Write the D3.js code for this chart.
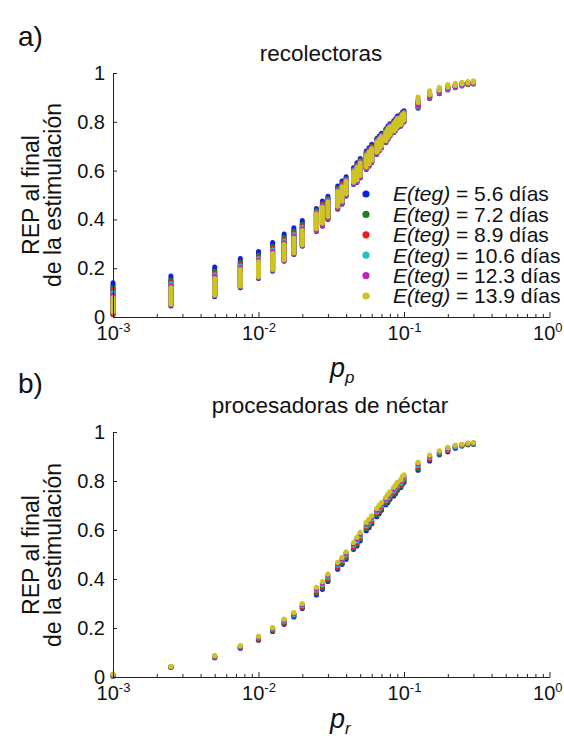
<!DOCTYPE html>
<html>
<head>
<meta charset="utf-8">
<script src="https://cdn.jsdelivr.net/npm/d3@7"></script>
<style>
  html, body { margin: 0; padding: 0; background: #fff; }
  svg { display: block; font-family: "Liberation Sans", Arial, sans-serif; }
</style>
</head>
<body>
<svg id="fig" width="564" height="738"></svg>
<script>
// ---- sampled probabilities (shared by both panels) ----
const pValues = [0.001, 0.0025, 0.005, 0.0075, 0.01, 0.0125, 0.015, 0.0175, 0.02,
  0.025, 0.0275, 0.03, 0.035, 0.0375, 0.04, 0.045, 0.0475, 0.05, 0.055, 0.0575, 0.06,
  0.065, 0.0675, 0.07, 0.075, 0.0775, 0.08, 0.085, 0.0875, 0.09, 0.095, 0.0975, 0.1,
  0.125, 0.15, 0.175, 0.2, 0.225, 0.25, 0.275, 0.3];

// ---- legend / series ----
const tegLabels = ["5.6", "7.2", "8.9", "10.6", "12.3", "13.9"];
const seriesColors = ["#1020e0", "#1f7f1f", "#ee1c1c", "#22c0c0", "#bf22bf", "#cbc425"];

// ---- panel a) recolectoras: range of REP per column (low / high) ----
const recBlueLo = [.01,.045,.083,.12,.158,.188,.228,.256,.29,.35,.372,.40,.442,.462,.495,.543,.551,.57,.605,.618,.632,.666,.68,.693,.714,.728,.741,.755,.764,.775,.782,.796,.80,.856,.895,.915,.93,.94,.947,.952,.955];
const recBlueHi = [.14,.168,.205,.24,.268,.305,.34,.366,.395,.445,.475,.495,.537,.557,.575,.612,.632,.65,.68,.694,.708,.732,.742,.753,.77,.783,.792,.804,.813,.824,.83,.84,.845,.879,.911,.929,.942,.949,.955,.959,.962];
const recGreenLo = [.01,.05,.087,.124,.161,.192,.231,.259,.293,.354,.376,.404,.446,.466,.498,.546,.554,.573,.608,.621,.635,.669,.682,.695,.716,.73,.743,.757,.766,.777,.784,.798,.802,.858,.897,.916,.931,.941,.948,.953,.956];
const recGreenHi = [.12,.15,.188,.223,.253,.289,.325,.351,.38,.436,.465,.486,.528,.548,.567,.605,.624,.642,.673,.686,.70,.725,.736,.747,.764,.777,.787,.799,.808,.819,.825,.836,.84,.881,.913,.93,.943,.95,.955,.959,.962];
const recRedLo = [.01,.05,.087,.124,.161,.192,.231,.259,.293,.354,.376,.404,.446,.466,.498,.546,.554,.573,.608,.621,.635,.669,.682,.695,.716,.73,.743,.757,.766,.777,.784,.798,.802,.861,.898,.918,.932,.942,.949,.953,.956];
const recRedHi = [.11,.143,.18,.216,.246,.282,.318,.344,.374,.432,.461,.482,.524,.544,.564,.602,.621,.639,.67,.683,.697,.723,.733,.745,.762,.775,.785,.797,.806,.817,.823,.834,.839,.884,.914,.931,.944,.951,.956,.96,.963];
const recCyanLo = [.02,.05,.088,.125,.162,.193,.232,.26,.294,.355,.377,.405,.447,.467,.499,.547,.555,.574,.609,.622,.636,.669,.683,.696,.717,.731,.744,.757,.766,.777,.784,.798,.802,.863,.90,.919,.933,.943,.949,.954,.957];
const recCyanHi = [.10,.136,.173,.209,.24,.275,.311,.338,.368,.428,.456,.478,.52,.54,.561,.60,.617,.636,.667,.68,.694,.72,.731,.742,.76,.773,.783,.795,.804,.815,.821,.832,.837,.886,.916,.933,.945,.952,.957,.96,.963];
const recMagentaLo = [.02,.05,.088,.125,.162,.193,.232,.26,.294,.355,.377,.405,.447,.467,.499,.547,.555,.574,.609,.622,.636,.669,.683,.696,.717,.731,.744,.757,.766,.777,.784,.798,.802,.865,.901,.92,.935,.944,.95,.955,.958];
const recMagentaHi = [.09,.128,.166,.202,.233,.268,.304,.331,.361,.426,.454,.476,.518,.538,.559,.598,.616,.634,.665,.679,.693,.719,.73,.741,.759,.772,.782,.794,.803,.814,.82,.831,.836,.89,.919,.935,.947,.954,.958,.962,.965];
const recYellowLo = [.02,.052,.09,.127,.165,.195,.235,.263,.296,.362,.384,.412,.454,.474,.505,.552,.561,.58,.615,.628,.642,.675,.688,.701,.722,.736,.748,.762,.771,.782,.789,.802,.807,.879,.911,.929,.942,.949,.955,.959,.962];
const recYellowHi = [.08,.12,.158,.195,.226,.26,.297,.324,.355,.422,.45,.472,.514,.534,.556,.595,.613,.631,.662,.676,.69,.716,.727,.739,.757,.77,.78,.792,.801,.812,.818,.829,.834,.902,.927,.942,.953,.958,.962,.965,.968];

// ---- panel b) procesadoras de néctar: REP per column ----
const procBlue = [.003,.039,.079,.117,.150,.186,.215,.245,.280,.335,.358,.390,.440,.460,.481,.521,.535,.556,.597,.610,.626,.654,.667,.681,.703,.712,.726,.739,.749,.762,.773,.787,.795,.844,.882,.907,.919,.934,.943,.948,.950];
const procGreen = [.005,.040,.081,.119,.153,.189,.219,.249,.284,.341,.364,.396,.446,.466,.487,.527,.542,.563,.604,.617,.632,.661,.674,.687,.709,.719,.732,.746,.756,.768,.779,.793,.801,.850,.887,.910,.923,.936,.944,.949,.951];
const procRed = [.007,.041,.082,.121,.156,.192,.223,.252,.288,.347,.370,.402,.451,.471,.493,.532,.549,.570,.611,.624,.639,.668,.681,.693,.715,.726,.738,.753,.763,.775,.786,.800,.807,.857,.892,.913,.926,.939,.946,.951,.953];
const procCyan = [.008,.041,.084,.124,.160,.196,.228,.256,.292,.354,.377,.408,.457,.477,.499,.538,.556,.576,.617,.630,.645,.674,.687,.700,.721,.732,.744,.760,.769,.781,.792,.806,.813,.863,.896,.917,.930,.941,.947,.952,.954];
const procMagenta = [.010,.042,.085,.126,.163,.199,.232,.259,.296,.360,.383,.414,.462,.482,.505,.543,.563,.583,.624,.637,.652,.681,.694,.706,.727,.739,.750,.767,.776,.788,.799,.813,.819,.870,.901,.920,.933,.944,.949,.954,.956];
const procYellow = [.012,.043,.087,.128,.166,.202,.236,.263,.300,.366,.389,.420,.468,.488,.511,.549,.570,.590,.631,.644,.658,.688,.701,.712,.733,.746,.756,.774,.783,.794,.805,.819,.825,.876,.906,.923,.937,.946,.950,.955,.957];

// ---- axis ticks ----
const xMajorTicks = [1e-3, 1e-2, 1e-1, 1];
const xMajorExp = ["-3", "-2", "-1", "0"];
const yTicks = [0, 0.2, 0.4, 0.6, 0.8, 1];
const yTickLabels = ["0", "0.2", "0.4", "0.6", "0.8", "1"];

const svg = d3.select("#fig");
const W = 564;
const x = d3.scaleLog().domain([1e-3, 1]).range([113, 549.5]);

const xMinorTicks = [];
[1e-3, 1e-2, 1e-1].forEach(d => { for (let m = 2; m <= 9; m++) xMinorTicks.push(d * m); });

function drawAxes(g, y) {
  const base = y(0);
  // minor ticks
  g.append("g").attr("transform", `translate(0,${base})`)
    .call(d3.axisBottom(x).tickValues(xMinorTicks).tickSize(-3).tickSizeOuter(0).tickFormat(""));
  // major ticks + power-of-ten labels
  const gx = g.append("g").attr("transform", `translate(0,${base})`)
    .call(d3.axisBottom(x).tickValues(xMajorTicks).tickSize(-5).tickSizeOuter(0).tickFormat(""));
  gx.selectAll(".tick text").remove();
  gx.selectAll(".tick").each(function (d, i) {
    const t = d3.select(this).append("text")
      .attr("y", 23).attr("text-anchor", "middle")
      .attr("fill", "#111").attr("font-size", 20);
    t.append("tspan").text("10");
    t.append("tspan").attr("dy", -8).attr("font-size", 13).text(xMajorExp[i]);
    // keep the rightmost label inside the figure
    const bb = this.getBBox();
    const right = x(d) + bb.x + bb.width;
    if (right > W - 2) t.attr("dx", (W - 2) - right);
  });

  const gy = g.append("g").attr("transform", `translate(${x(1e-3)},0)`)
    .call(d3.axisLeft(y).tickValues(yTicks).tickSize(-4).tickSizeOuter(0)
      .tickPadding(8).tickFormat((d, i) => yTickLabels[i]));
  gy.selectAll(".tick text").attr("font-size", 20).attr("fill", "#111");

  g.selectAll(".domain").attr("stroke", "#222");
  g.selectAll(".tick line").attr("stroke", "#222");
}

function drawYLabel(g, yMid) {
  const t = g.append("text").attr("transform", `translate(39,${yMid}) rotate(-90)`)
    .attr("text-anchor", "middle").attr("font-size", 23).attr("fill", "#111");
  t.append("tspan").attr("x", 0).attr("y", 0).text("REP al final");
  t.append("tspan").attr("x", 0).attr("y", 22).text("de la estimulación");
}

// ---------- panel a ----------
const yA = d3.scaleLinear().domain([0, 1]).range([317, 73]);
const gA = svg.append("g");

svg.append("text").attr("x", 18).attr("y", 46).attr("font-size", 28).attr("fill", "#111").text("a)");
svg.append("text").attr("x", 321).attr("y", 61).attr("text-anchor", "middle")
  .attr("font-size", 22.5).attr("fill", "#111").text("recolectoras");

const recSeries = [
  [recBlueLo, recBlueHi], [recGreenLo, recGreenHi], [recRedLo, recRedHi],
  [recCyanLo, recCyanHi], [recMagentaLo, recMagentaHi], [recYellowLo, recYellowHi]
];
recSeries.forEach(([lo, hi], s) => {
  gA.append("g").selectAll("line").data(pValues).join("line")
    .attr("x1", d => x(d)).attr("x2", d => x(d))
    .attr("y1", (d, i) => yA(lo[i])).attr("y2", (d, i) => yA(hi[i]))
    .attr("stroke", seriesColors[s]).attr("stroke-width", 5)
    .attr("stroke-linecap", "round");
});
drawAxes(gA, yA);
drawYLabel(svg, 195);

const xlA = svg.append("text").attr("x", 330).attr("y", 377).attr("font-size", 27)
  .attr("font-style", "italic").attr("fill", "#111");
xlA.append("tspan").text("p");
xlA.append("tspan").attr("dy", 6).attr("font-size", 17).text("p");

// legend
const leg = svg.append("g");
tegLabels.forEach((lab, i) => {
  const cy = 194 + i * 20.4;
  leg.append("circle").attr("cx", 366).attr("cy", cy).attr("r", 3.6).attr("fill", seriesColors[i]);
  const t = leg.append("text").attr("x", 393).attr("y", cy + 7.3)
    .attr("font-size", 21).attr("fill", "#111");
  t.append("tspan").attr("font-style", "italic").text("E(teg)");
  t.append("tspan").text(" = " + lab + " días");
});

// ---------- panel b ----------
const yB = d3.scaleLinear().domain([0, 1]).range([677, 432]);
const gB = svg.append("g");

svg.append("text").attr("x", 18).attr("y", 393).attr("font-size", 28).attr("fill", "#111").text("b)");
svg.append("text").attr("x", 330).attr("y", 413).attr("text-anchor", "middle")
  .attr("font-size", 22.5).attr("fill", "#111").text("procesadoras de néctar");

const procSeries = [procBlue, procGreen, procRed, procCyan, procMagenta, procYellow];
procSeries.forEach((vals, s) => {
  gB.append("g").selectAll("circle").data(pValues).join("circle")
    .attr("cx", d => x(d)).attr("cy", (d, i) => yB(vals[i]))
    .attr("r", 2.6).attr("fill", seriesColors[s]);
});
drawAxes(gB, yB);
drawYLabel(svg, 555);

const xlB = svg.append("text").attr("x", 330).attr("y", 728).attr("font-size", 27)
  .attr("font-style", "italic").attr("fill", "#111");
xlB.append("tspan").text("p");
xlB.append("tspan").attr("dy", 6).attr("font-size", 17).text("r");
</script>
</body>
</html>
